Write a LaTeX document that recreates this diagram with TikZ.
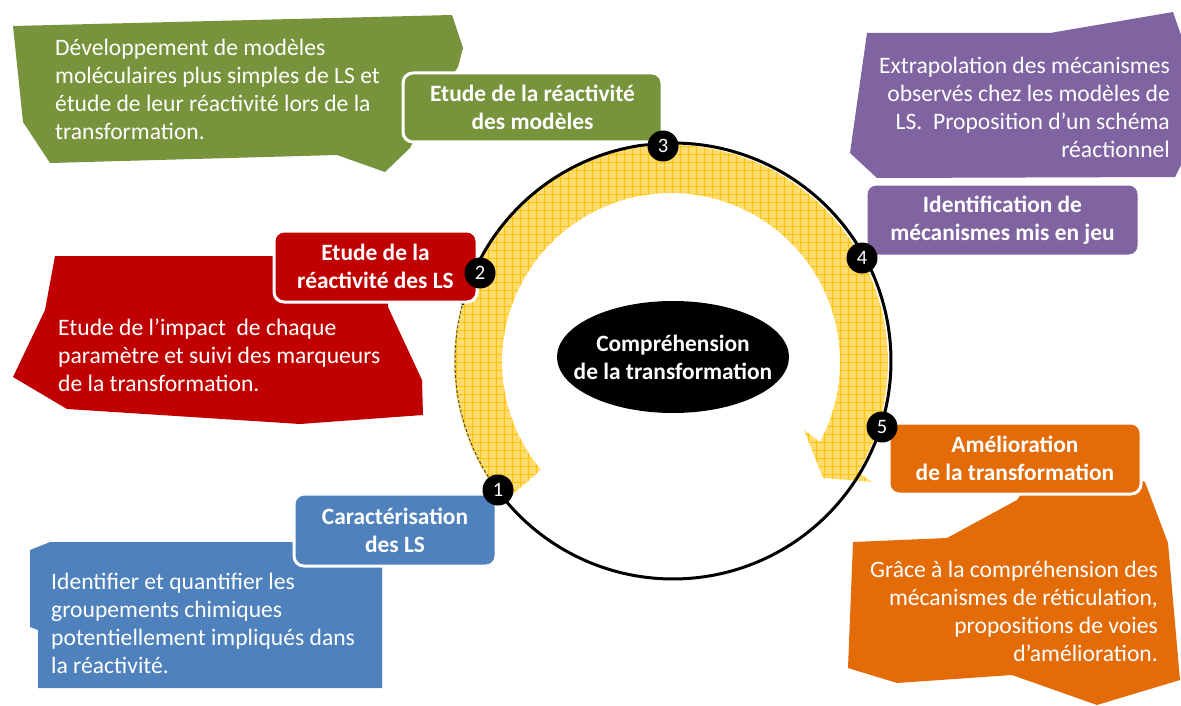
\documentclass[tikz,border=0pt]{standalone}
\usepackage{fontspec}
\setmainfont{Carlito}
\usetikzlibrary{shapes.geometric,patterns.meta}
\definecolor{cgreen}{HTML}{77933C}
\definecolor{cred}{HTML}{C00000}
\definecolor{cpurple}{HTML}{8064A2}
\definecolor{cblue}{HTML}{4F81BD}
\definecolor{corange}{HTML}{E36C09}
\definecolor{cyellow}{HTML}{FFDC70}
\definecolor{cgrid}{HTML}{FFC20A}
\newcommand\mytab[2]{\begin{tabular}[t]{@{}#1@{}}#2\end{tabular}}
\begin{document}
\begin{tikzpicture}[x=1pt,y=-1pt,
  bodytext/.style={text=white, inner sep=0pt, font=\fontsize{23.6}{28}\selectfont},
  titlebox/.style={rectangle, rounded corners=10pt, draw=white, line width=3pt, text=white,
    font=\bfseries\fontsize{23.4}{28}\selectfont, align=center, inner sep=0pt},
  numnode/.style={circle, fill=black, text=white, minimum size=31pt, inner sep=0pt,
    font=\fontsize{20.5}{20.5}\selectfont},
  band/.style={fill=cyellow, postaction={pattern={Hatch[angle=0,distance=8pt,line width=0.9pt]}, pattern color=cgrid}},
  ring/.style={line width=3pt, black}
]
\useasboundingbox (0,0) rectangle (1181,706);
\fill[white] (0,0) rectangle (1181,706);

% yellow circular arrow
\path[band] plot[domain=140:390.5, samples=120] ({671+217*cos(\x)},{362+217*sin(\x)})
  -- (872,482) -- (823,478) -- (804,430) -- (820,442)
  -- plot[domain=388.2:140.4, samples=120] ({671+169*cos(\x)},{362+169*sin(\x)}) -- cycle;

% ring
\draw[ring] plot[domain=195:500, samples=200] ({673+218*cos(\x)},{361+218*sin(\x)});
\draw[line width=1pt, black!70, densely dashed] plot[domain=140:195, samples=40] ({673+218*cos(\x)},{361+218*sin(\x)});

% callouts
\fill[cgreen] (13,26) -- (452,15) -- (463,48) -- (458,67) -- (430,110) -- (410,148) -- (385,172)
  -- (337,155) -- (50,163) -- (23,122) -- cycle;
\fill[cred] (55,256) -- (300,256) -- (388,290) -- (388,307) -- (422,380) -- (423,415) -- (300,424)
  -- (67,409) -- (13,377) -- (45,310) -- cycle;
\fill[cpurple] (867,33) -- (1050,33) -- (1173,12) -- (1181,35) -- (1181,165) -- (1175,177)
  -- (877,178) -- (850,153) -- cycle;
\fill[corange] (1017,500) -- (1030,480) -- (1140,480) -- (1145,482) -- (1168,543) -- (1180,680)
  -- (1097,705) -- (1012,675) -- (897,683) -- (848,668) -- (853,542) -- (947,538) -- cycle;
\fill[cblue] (30,550) -- (50,542) -- (300,542) -- (382,560) -- (382,688) -- (38,688) -- (38,630)
  -- (30,627) -- cycle;

% title boxes
\node[titlebox, fill=cgreen, minimum width=259pt, minimum height=69pt] (t3) at (532.5,107.5) {Etude de la réactivité\\des modèles};
\node[titlebox, fill=cred, minimum width=203pt, minimum height=71pt] (t2) at (375.5,266.5) {Etude de la\\réactivité des LS};
\node[titlebox, fill=cpurple, minimum width=273pt, minimum height=72pt] (t4) at (1002.5,220) {Identification de\\mécanismes mis en jeu};
\node[titlebox, fill=corange, minimum width=252pt, minimum height=71pt] (t5) at (1015,458.5) {Amélioration\\de la transformation};
\node[titlebox, fill=cblue, minimum width=202pt, minimum height=72pt] (t1) at (395,530) {Caractérisation\\des LS};

% centre
\node[ellipse, fill=black, minimum width=232pt, minimum height=112pt, inner sep=0pt] (c) at (673,357) {};
\node[text=white, font=\bfseries\fontsize{23.4}{28}\selectfont, align=center, inner sep=0pt] (ct) at (c.center) {Compréhension\\de la transformation};

% body texts
\node[bodytext, anchor=base west] (d3) at (55,56) {\mytab{l}{Développement de modèles\\moléculaires plus simples de LS et\\étude de leur réactivité lors de la\\transformation.}};
\node[bodytext, anchor=base west] (d2) at (58,335) {\mytab{l}{Etude de l’impact~ de chaque\\paramètre et suivi des marqueurs\\de la transformation.}};
\node[bodytext, anchor=base west] (d1) at (51,589) {\mytab{l}{Identifier et quantifier les\\groupements chimiques\\potentiellement impliqués dans\\la réactivité.}};
\node[bodytext, anchor=base east] (d4) at (1170,74) {\mytab{r}{Extrapolation des mécanismes\\observés chez les modèles de\\LS.~ Proposition d’un schéma\\réactionnel}};
\node[bodytext, anchor=base east] (d5) at (1158,577) {\mytab{r}{Grâce à la compréhension des\\mécanismes de réticulation,\\propositions de voies\\d’amélioration.}};

% numbers
\node[numnode] (n1) at (498,490) {1};
\node[numnode] (n2) at (480,273) {2};
\node[numnode] (n3) at (663,146) {3};
\node[numnode] (n4) at (862,258) {4};
\node[numnode] (n5) at (882,427) {5};
\end{tikzpicture}
\end{document}
